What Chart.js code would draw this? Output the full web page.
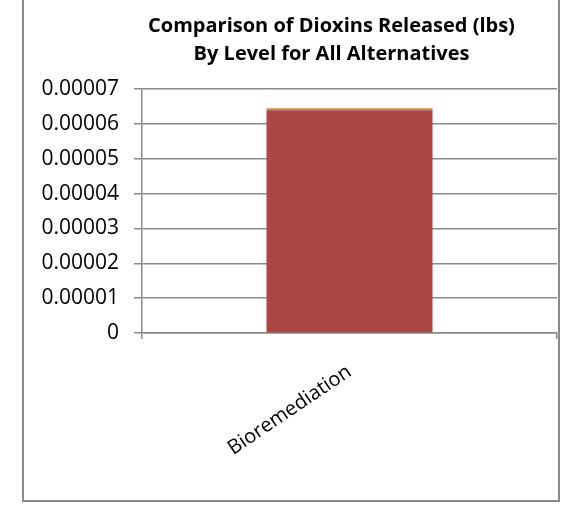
<!DOCTYPE html>
<html>
<head>
<meta charset="utf-8">
<script src="https://cdn.jsdelivr.net/npm/chart.js@4"></script>
<style>
  html, body { margin: 0; padding: 0; background: #fff; }
  #wrap { position: relative; width: 566px; height: 506px; }
  #marco { position: absolute; left: 22px; top: -2px; width: 534px; height: 500px;
           border: 2px solid #8a8a8a; pointer-events: none; }
</style>
</head>
<body>
<div id="wrap">
  <canvas id="grafico" width="566" height="506"></canvas>
  <div id="marco"></div>
</div>
<script>
// Datos (libras de dioxinas por nivel)
const categorias = ['Bioremediation']
const nivelRojo = [0.0000639]
const nivelAqua = [0.0000003]
const nivelNaranjo = [0.0000003]
const tituloLineas = ['Comparison of Dioxins Released (lbs)', 'By Level for All Alternatives']

const GRIS = '#8a8a8a'
const FUENTE = "'Open Sans', Lato, sans-serif"

// Título dibujado a mano, un poco a la izquierda del centro del área (como en Excel)
const tituloPlugin = {
  id: 'tituloExcel',
  afterDraw(chart) {
    const { ctx, chartArea } = chart
    const cx = (chartArea.left + chartArea.right) / 2 - 18
    ctx.save()
    ctx.fillStyle = '#000'
    ctx.font = `bold 20px ${FUENTE}`
    ctx.textAlign = 'center'
    ctx.textBaseline = 'alphabetic'
    ctx.fillText(tituloLineas[0], cx, 32)
    ctx.fillText(tituloLineas[1], cx, 60)
    ctx.restore()
  }
}

new Chart(document.getElementById('grafico'), {
  type: 'bar',
  data: {
    labels: categorias,
    datasets: [
      { label: 'Level 2', data: nivelRojo, backgroundColor: '#aa4643' },
      { label: 'Level 5', data: nivelAqua, backgroundColor: '#4198af' },
      { label: 'Level 6', data: nivelNaranjo, backgroundColor: '#db843d' }
    ]
  },
  plugins: [tituloPlugin],
  options: {
    responsive: false,
    animation: false,
    devicePixelRatio: 1,
    layout: { padding: { left: 0, right: 9, top: 89, bottom: 0 } },
    datasets: { bar: { barPercentage: 0.4, categoryPercentage: 1.0 } },
    plugins: {
      legend: { display: false },
      tooltip: { enabled: false },
      title: { display: false }
    },
    scales: {
      x: {
        stacked: true,
        afterFit: s => { s.height = 173 },
        grid: { drawOnChartArea: false, drawTicks: true, tickLength: 6, color: GRIS, lineWidth: 1.5 },
        border: { color: GRIS, width: 1.5 },
        ticks: { color: '#000', font: { family: FUENTE, size: 20 }, minRotation: 34, maxRotation: 34, padding: 21 }
      },
      y: {
        stacked: true,
        min: 0,
        max: 0.00007,
        afterFit: s => { s.width = 142 },
        grid: { color: GRIS, lineWidth: 1.5, tickLength: 8 },
        border: { color: GRIS, width: 1.5 },
        ticks: {
          stepSize: 0.00001,
          color: '#000',
          padding: 15,
          font: { family: FUENTE, size: 21 },
          callback: v => (v === 0 ? '0' : Number(v).toFixed(5))
        }
      }
    }
  }
})
</script>
</body>
</html>
